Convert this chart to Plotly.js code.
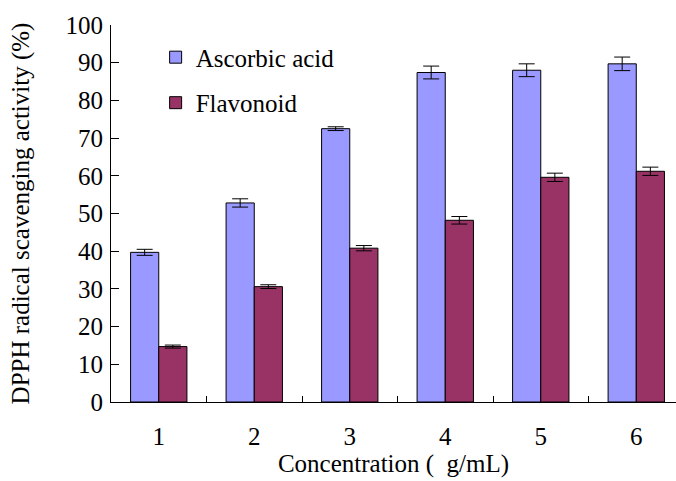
<!DOCTYPE html>
<html><head><meta charset="utf-8">
<script src="https://cdn.plot.ly/plotly-3.0.1.min.js"></script>
<style>html,body{margin:0;padding:0;background:#fff}#c{width:676px;height:481px}</style>
</head><body><div id="c"></div>
<script>
const categories = ["1","2","3","4","5","6"];
const ascorbic = [39.7, 52.8, 72.5, 87.4, 88.0, 89.7];
const ascorbicErr = [0.8, 1.1, 0.5, 1.7, 1.7, 1.8];
const flavonoid = [14.7, 30.6, 40.8, 48.2, 59.6, 61.2];
const flavonoidErr = [0.4, 0.5, 0.7, 1.0, 1.1, 1.1];
const yTicks = [0,10,20,30,40,50,60,70,80,90,100];

const font = {family: "Liberation Serif, Times New Roman, serif", size: 25, color: "#000"};
const traces = [
  {type:"bar", name:"Ascorbic acid", x:categories, y:ascorbic, legendgroup:"a",
   marker:{color:"#9999FF", line:{color:"#000", width:1}},
   error_y:{type:"data", array:ascorbicErr, visible:true, color:"#000", thickness:1, width:8}},
  {type:"bar", name:"Flavonoid", x:categories, y:flavonoid, legendgroup:"b",
   marker:{color:"#993366", line:{color:"#000", width:1}},
   error_y:{type:"data", array:flavonoidErr, visible:true, color:"#000", thickness:1, width:8}}
];
const layout = {
  width:676, height:481,
  margin:{l:111, r:0, t:25, b:79},
  paper_bgcolor:"#fff", plot_bgcolor:"#fff",
  font: font,
  barmode:"group", bargap:0.41, bargroupgap:0,
  showlegend:true,
  legend:{x:0.079, y:0.975, xanchor:"left", yanchor:"top", bgcolor:"rgba(0,0,0,0)",
          font:font, traceorder:"grouped", tracegroupgap:10},
  xaxis:{type:"category", range:[-0.5, 5.416], showline:true, linecolor:"#000", linewidth:1, mirror:false,
         ticks:"inside", tickson:"boundaries", ticklen:6, tickcolor:"#000",
         showgrid:false, zeroline:false, tickfont:font, ticklabelstandoff:12,
         title:{text:"Concentration (  g/mL)", font:font, standoff:2}},
  yaxis:{range:[0,100], tickvals:yTicks, showline:true, linecolor:"#000", linewidth:1,
         ticks:"inside", ticklen:8, tickcolor:"#000", showgrid:false, zeroline:false,
         tickfont:font, ticklabelstandoff:2,
         title:{text:"DPPH radical scavenging activity (%)", font:font, standoff:28}}
};
Plotly.newPlot("c", traces, layout, {displayModeBar:false, staticPlot:true});
</script></body></html>
